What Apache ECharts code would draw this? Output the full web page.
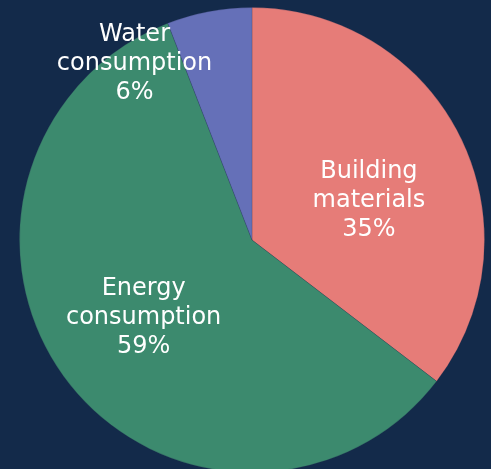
<!DOCTYPE html>
<html><head><meta charset="utf-8">
<script src="https://cdn.jsdelivr.net/npm/echarts@6/dist/echarts.min.js"></script>
<style>html,body{margin:0;padding:0;background:#132a4a;}#c{width:491px;height:469px;}</style>
</head><body><div id="c"></div>
<script>
const categories = ["Building\nmaterials", "Energy\nconsumption", "Water\nconsumption"];
const values = [35.4, 58.7, 5.9];
const colors = ["#e67c78", "#3c8a6e", "#6570b8"];
const labelShift = [[10, 14], [-13, 6], [-95.5, -59.5]];

const chart = echarts.init(document.getElementById('c'));
chart.setOption({
  backgroundColor: '#132a4a',
  animation: false,
  series: [{
    type: 'pie',
    center: [252, 240],
    radius: [0, 232.5],
    startAngle: 90,
    clockwise: true,
    data: categories.map((n, i) => ({ name: n, value: values[i], itemStyle: { color: colors[i] } })),
    itemStyle: { borderColor: 'rgba(40,50,80,0.35)', borderWidth: 0.6 },
    label: {
      position: 'inside',
      formatter: p => p.name + '\n' + Math.round(p.value) + '%',
      color: '#ffffff',
      fontFamily: 'DejaVu Sans',
      fontSize: 24,
      lineHeight: 29,
      align: 'center'
    },
    labelLine: { show: false },
    labelLayout: p => ({ dx: labelShift[p.dataIndex][0], dy: labelShift[p.dataIndex][1] }),
    emphasis: { disabled: true }
  }]
});
</script></body></html>
